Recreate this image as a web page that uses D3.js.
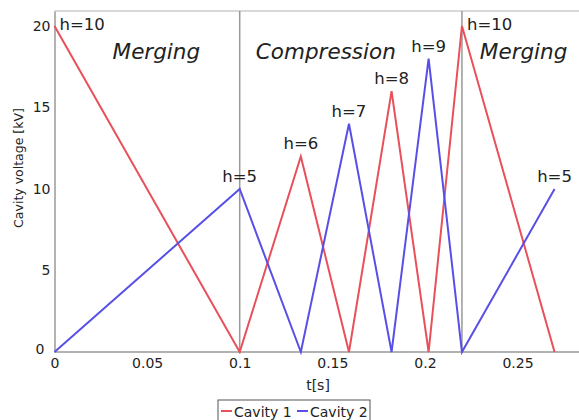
<!DOCTYPE html>
<html>
<head>
<meta charset="utf-8">
<title>Cavity voltage</title>
<script src="https://d3js.org/d3.v7.min.js"></script>
<style>
  body { margin: 0; background: #fff; font-family: 'DejaVu Sans', sans-serif; }
  svg text { fill: #222; }
</style>
</head>
<body>
<svg id="chart" width="579" height="420"></svg>
<script>
// time points (s) and voltages (kV)
const times = [0, 0.1, 0.133, 0.159, 0.182, 0.202, 0.22, 0.27];
const cavity1 = [20, 0, 12, 0, 16, 0, 20, 0];
const cavity2 = [0, 10, 0, 14, 0, 18, 0, 10];
const xTicks = [0, 0.05, 0.1, 0.15, 0.2, 0.25];
const xTickLabels = ["0", "0.05", "0.1", "0.15", "0.2", "0.25"];
const yTicks = [0, 5, 10, 15, 20];
const phaseLines = [0.1, 0.22];
const phases = [
  { name: "Merging", t: 0.055 },
  { name: "Compression", t: 0.1465 },
  { name: "Merging", t: 0.2533 }
];
// harmonic labels: [series, point index, text, placement]
const harmonics = [
  ["c1", 0, "h=10", "right"],
  ["c2", 1, "h=5", "above"],
  ["c1", 2, "h=6", "above"],
  ["c2", 3, "h=7", "above"],
  ["c1", 4, "h=8", "above"],
  ["c2", 5, "h=9", "above"],
  ["c1", 6, "h=10", "right"],
  ["c2", 7, "h=5", "above"]
];
const seriesNames = ["Cavity 1", "Cavity 2"];
const colors = { c1: "#e8505a", c2: "#5850e6" };

const margin = { top: 11, right: 0, bottom: 68, left: 54.5 };
const width = 579, height = 420;
const svg = d3.select("#chart");

const x = d3.scaleLinear().domain([0, 0.2832]).range([margin.left, width - margin.right]);
const y = d3.scaleLinear().domain([0, 20.92]).range([height - margin.bottom, margin.top]);

// frame
svg.append("line").attr("x1", x(0)).attr("x2", width).attr("y1", margin.top).attr("y2", margin.top)
  .attr("stroke", "#ccc").attr("stroke-width", 1.5);

// phase separators
svg.selectAll(".phase-line").data(phaseLines).enter().append("line")
  .attr("x1", d => x(d)).attr("x2", d => x(d))
  .attr("y1", margin.top).attr("y2", y(0))
  .attr("stroke", "#999").attr("stroke-width", 1.5);

// axes
const xAxis = svg.append("g").attr("transform", `translate(0,${y(0)})`)
  .call(d3.axisBottom(x).tickValues(xTicks).tickFormat((d, i) => xTickLabels[i]).tickSize(0).tickPadding(6));
const yAxis = svg.append("g").attr("transform", `translate(${x(0)},0)`)
  .call(d3.axisLeft(y).tickValues(yTicks).tickSize(0).tickPadding(4));
[xAxis, yAxis].forEach(g => {
  g.select(".domain").attr("stroke", "#999").attr("stroke-width", 1.5);
  g.selectAll("text").style("font-family", "'DejaVu Sans', sans-serif").style("font-size", "14px").attr("fill", "#222");
});
xAxis.select(".domain").attr("d", `M${x(0)},0H${width}`);
yAxis.selectAll(".tick").filter(d => d === 0).select("text").attr("dx", "-6").attr("dy", "0.1em");

// axis titles
svg.append("text").attr("x", 318).attr("y", 390).attr("text-anchor", "middle")
  .style("font-size", "14px").text("t[s]");
svg.append("text").attr("transform", "translate(23,168) rotate(-90)").attr("text-anchor", "middle")
  .style("font-size", "12.5px").text("Cavity voltage [kV]");

// series
const data = {
  c1: times.map((t, i) => [t, cavity1[i]]),
  c2: times.map((t, i) => [t, cavity2[i]])
};
const line = d3.line().x(d => x(d[0])).y(d => y(d[1]));
["c1", "c2"].forEach(k => {
  svg.append("path").datum(data[k]).attr("d", line)
    .attr("fill", "none").attr("stroke", colors[k]).attr("stroke-width", 2)
    .attr("stroke-linejoin", "miter");
});

// phase names
svg.selectAll(".phase").data(phases).enter().append("text")
  .attr("x", d => x(d.t)).attr("y", 59).attr("text-anchor", "middle")
  .style("font-size", "21.5px").style("font-style", "italic").text(d => d.name);

// harmonic labels
svg.selectAll(".harm").data(harmonics).enter().append("text")
  .attr("x", d => {
    const p = data[d[0]][d[1]];
    return d[3] === "right" ? x(p[0]) + 5 : x(p[0]);
  })
  .attr("y", d => {
    const p = data[d[0]][d[1]];
    return d[3] === "right" ? y(p[1]) + 4 : y(p[1]) - 7;
  })
  .attr("text-anchor", d => d[3] === "right" ? "start" : "middle")
  .style("font-size", "16.5px").text(d => d[2]);

// legend
const lg = svg.append("g").attr("transform", "translate(218,400)");
lg.append("rect").attr("x", 0).attr("y", 0).attr("width", 152).attr("height", 24)
  .attr("fill", "#fff").attr("stroke", "#555").attr("stroke-width", 1);
const items = [["c1", 3], ["c2", 79]];
items.forEach(([k, dx], i) => {
  lg.append("line").attr("x1", dx).attr("x2", dx + 11).attr("y1", 11).attr("y2", 11)
    .attr("stroke", colors[k]).attr("stroke-width", 2);
  lg.append("text").attr("x", dx + 13).attr("y", 17).style("font-size", "14px").text(seriesNames[i]);
});
</script>
</body>
</html>
